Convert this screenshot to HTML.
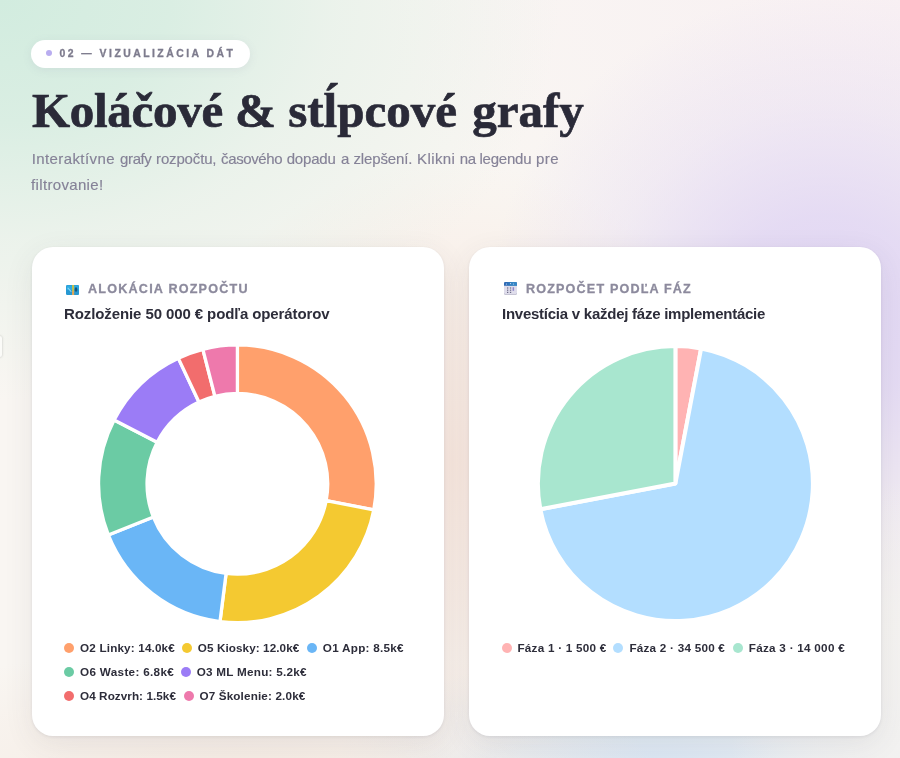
<!DOCTYPE html>
<html lang="sk">
<head>
<meta charset="utf-8">
<title>Koláčové &amp; stĺpcové grafy</title>
<style>
*{box-sizing:border-box;margin:0;padding:0}
html,body{width:900px;height:758px;overflow:hidden}
body{position:relative;font-family:"Liberation Sans",sans-serif;color:#2b2b3a;background:#faf6f1;}
.bg{position:absolute;left:0;top:0;width:900px;height:758px;
background:
radial-gradient(ellipse 170px 280px at 100% 100%, rgba(242,241,240,.95) 0%, rgba(242,241,240,.6) 50%, rgba(242,241,240,0) 100%),
radial-gradient(ellipse 560px 400px at 0% 0%, rgba(210,236,223,1) 0%, rgba(210,236,223,.8) 30%, rgba(210,236,223,.35) 60%, rgba(210,236,223,0) 100%),
radial-gradient(ellipse 340px 320px at 92% 41%, rgba(224,213,244,1) 0%, rgba(224,213,244,.8) 30%, rgba(224,213,244,.32) 65%, rgba(224,213,244,0) 100%),
radial-gradient(ellipse 300px 300px at 50% 61%, rgba(248,231,222,.95) 0%, rgba(248,231,222,.6) 45%, rgba(248,231,222,0) 100%),
radial-gradient(ellipse 420px 150px at 27% 104%, rgba(243,231,222,.85) 0%, rgba(243,231,222,0) 100%),
radial-gradient(ellipse 320px 130px at 72% 103%, rgba(212,227,243,1) 0%, rgba(212,227,243,0) 100%),
radial-gradient(ellipse 520px 320px at 100% 0%, rgba(248,240,243,1) 0%, rgba(248,240,243,0) 100%),
#f9f6f2;}
.tab{position:absolute;left:-2px;top:335.5px;width:4.3px;height:21px;background:#fbfbf8;border-radius:0 2px 2px 0;box-shadow:0 0 2.5px rgba(0,0,0,.22)}
.pill{position:absolute;left:31.2px;top:39.5px;width:219.3px;height:28.4px;border-radius:14px;background:#fff;box-shadow:0 2px 10px rgba(120,110,160,.10);}
.pill .dot{position:absolute;left:14.8px;top:10.6px;width:6px;height:6px;border-radius:50%;background:#b9adf0}
.pill .t{position:absolute;left:28.3px;top:.2px;line-height:28px;font-size:10.4px;font-weight:700;letter-spacing:2.48px;color:#7d7b8d;-webkit-text-stroke:0.3px #7d7b8d;white-space:nowrap}
h1{position:absolute;left:32px;top:81.3px;font-family:"Liberation Serif",serif;font-weight:700;font-size:49px;line-height:60px;color:#2a2a38;-webkit-text-stroke:0.7px #2a2a38;white-space:nowrap;transform-origin:0 0}
.sub{position:absolute;left:32px;top:146px;width:600px;letter-spacing:.03px;font-size:15px;line-height:25.5px;color:#858297;-webkit-text-stroke:.15px #858297;white-space:nowrap}
.sub span{position:absolute;top:0}
.card{position:absolute;top:246.5px;width:412.1px;height:489.6px;border-radius:21px;background:#fff;box-shadow:0 1px 3px rgba(60,50,80,.09),0 8px 30px rgba(70,62,80,.09)}
.c1{left:32px}.c2{left:469.1px}
.c2 .lab{left:56.9px}.c2 .tt{left:32.9px}.c2 .ic{margin-left:.9px}
.lab{position:absolute;left:56px;top:34.8px;font-size:12.6px;font-weight:700;letter-spacing:1.21px;color:#8c8a9d;-webkit-text-stroke:0.3px #8c8a9d;white-space:nowrap;line-height:16px}
.tt{position:absolute;left:32px;top:57.5px;letter-spacing:-0.1px;font-size:15px;font-weight:700;color:#2d2d3a;white-space:nowrap;line-height:20px}
.ic{position:absolute}
.ch{position:absolute;left:0;top:.5px}
.leg{position:absolute;font-size:11.7px;font-weight:700;color:#2d2d3a;white-space:nowrap;line-height:14px}
.leg i{position:absolute;width:10px;height:10px;border-radius:50%;top:2px;left:-16px}
</style>
</head>
<body>
<div class="bg"></div>
<div class="tab"></div>
<div class="pill"><span class="dot"></span><span class="t">02 — VIZUALIZÁCIA DÁT</span></div>
<h1><span style="letter-spacing:-0.3px">Koláčové</span> <span>&amp;</span> <span>stĺpcové</span> <span style="margin-left:3px">grafy</span></h1>
<div class="sub"><span class="w" style="left:-0.3px;top:0px;letter-spacing:0.400px">Interaktívne</span> <span class="w" style="left:88.1px;top:0px;letter-spacing:-0.400px">grafy</span> <span class="w" style="left:124.1px;top:0px;letter-spacing:-0.163px">rozpočtu,</span> <span class="w" style="left:189.1px;top:0px;letter-spacing:-0.400px">časového</span> <span class="w" style="left:254.7px;top:0px;letter-spacing:-0.193px">dopadu</span> <span class="w" style="left:309.1px;top:0px;letter-spacing:0.000px">a</span> <span class="w" style="left:321.4px;top:0px;letter-spacing:-0.118px">zlepšení.</span> <span class="w" style="left:385.1px;top:0px;letter-spacing:0.400px">Klikni</span> <span class="w" style="left:427.8px;top:0px;letter-spacing:-0.400px">na</span> <span class="w" style="left:447.4px;top:0px;letter-spacing:-0.215px">legendu</span> <span class="w" style="left:504.1px;top:0px;letter-spacing:0.400px">pre</span><br><span class="w" style="left:-0.9px;top:25.5px;letter-spacing:0.330px">filtrovanie!</span></div>

<div class="card c1">
<svg class="ic" style="left:34px;top:38.3px" width="13.2" height="10" viewBox="0 0 13.2 10"><rect x="0" y="0" width="13.2" height="10" rx="1.2" fill="#2798d2"/><rect x="0.6" y="0.6" width="12" height="4.4" rx=".8" fill="#31b1e7" opacity=".75"/><path d="M2 3.2L5 6.4" stroke="#7fd4f6" stroke-width="1.1" stroke-linecap="round"/><ellipse cx="10" cy="4.5" rx="1.4" ry="2.3" fill="#14587f"/><rect x="6.1" y="0" width="2" height="10" fill="#c6c048"/><rect x="6.1" y="6" width="2" height="4" fill="#dfa75c"/></svg>
  <div class="lab">ALOKÁCIA ROZPOČTU</div>
  <div class="tt">Rozloženie 50 000 € podľa operátorov</div>
  <svg class="ch" width="411" height="489" viewBox="0 0 411 489">
<path d="M205.40 97.95A138.85 138.85 0 0 1 341.79 262.82L294.15 253.73A90.35 90.35 0 0 0 205.40 146.45Z" fill="#FFA06C" stroke="#fff" stroke-width="3.3" stroke-linejoin="round"/>
<path d="M341.79 262.82A138.85 138.85 0 0 1 188.00 374.56L194.08 326.44A90.35 90.35 0 0 0 294.15 253.73Z" fill="#F4C931" stroke="#fff" stroke-width="3.3" stroke-linejoin="round"/>
<path d="M188.00 374.56A138.85 138.85 0 0 1 76.30 287.91L121.39 270.06A90.35 90.35 0 0 0 194.08 326.44Z" fill="#6AB6F6" stroke="#fff" stroke-width="3.3" stroke-linejoin="round"/>
<path d="M76.30 287.91A138.85 138.85 0 0 1 82.08 172.99L125.16 195.28A90.35 90.35 0 0 0 121.39 270.06Z" fill="#6BCBA4" stroke="#fff" stroke-width="3.3" stroke-linejoin="round"/>
<path d="M82.08 172.99A138.85 138.85 0 0 1 146.28 111.16L166.93 155.05A90.35 90.35 0 0 0 125.16 195.28Z" fill="#9B7CF6" stroke="#fff" stroke-width="3.3" stroke-linejoin="round"/>
<path d="M146.28 111.16A138.85 138.85 0 0 1 170.87 102.31L182.93 149.29A90.35 90.35 0 0 0 166.93 155.05Z" fill="#F26D6D" stroke="#fff" stroke-width="3.3" stroke-linejoin="round"/>
<path d="M170.87 102.31A138.85 138.85 0 0 1 205.40 97.95L205.40 146.45A90.35 90.35 0 0 0 182.93 149.29Z" fill="#EE79AC" stroke="#fff" stroke-width="3.3" stroke-linejoin="round"/>
  </svg>
<div class="leg" style="left:48.1px;top:394.5px;letter-spacing:0.162px"><i style="background:#FFA06C;left:-16.1px"></i>O2 Linky: 14.0k€</div>
<div class="leg" style="left:165.8px;top:394.5px;letter-spacing:0.090px"><i style="background:#F4C931;left:-15.8px"></i>O5 Kiosky: 12.0k€</div>
<div class="leg" style="left:290.8px;top:394.5px;letter-spacing:0.274px"><i style="background:#6AB6F6;left:-15.8px"></i>O1 App: 8.5k€</div>
<div class="leg" style="left:48.1px;top:418.5px;letter-spacing:0.313px"><i style="background:#6BCBA4;left:-16.1px"></i>O6 Waste: 6.8k€</div>
<div class="leg" style="left:164.7px;top:418.5px;letter-spacing:0.259px"><i style="background:#9B7CF6;left:-15.7px"></i>O3 ML Menu: 5.2k€</div>
<div class="leg" style="left:48.1px;top:442.5px;letter-spacing:0.064px"><i style="background:#F26D6D;left:-16.1px"></i>O4 Rozvrh: 1.5k€</div>
<div class="leg" style="left:167.4px;top:442.5px;letter-spacing:0.153px"><i style="background:#EE79AC;left:-15.4px"></i>O7 Školenie: 2.0k€</div>
</div>
<div class="card c2">
<svg class="ic" style="left:34px;top:35.5px" width="13" height="12.8" viewBox="0 0 13 12.8"><rect x="0" y="0" width="13" height="12.8" rx="1.4" fill="#a9a7bd"/><rect x="0" y="0" width="13" height="12.2" rx="1.4" fill="#dfddeb"/><path d="M0 3.8V1.4A1.4 1.4 0 0 1 1.4 0H11.6A1.4 1.4 0 0 1 13 1.4V3.8Z" fill="#2c69b4"/><path d="M6.5 0H11.6A1.4 1.4 0 0 1 13 1.4V3.8H6.5Z" fill="#3a93cc" opacity=".7"/><rect x="3.5" y="0" width="4" height="3.8" fill="#3380c2" opacity=".5"/><g fill="#6d6a86"><rect x="3" y="5.4" width="1.3" height="1.2"/><rect x="5.9" y="5.4" width="1.3" height="1.2"/><rect x="3" y="7.6" width="1.3" height="1.2"/><rect x="5.9" y="7.6" width="1.3" height="1.2"/><rect x="3" y="9.8" width="1.3" height="1.2"/><rect x="5.9" y="9.8" width="1.3" height="1.2"/></g><rect x="8.6" y="5.2" width="1.5" height="3.6" fill="#8f86c9"/><g fill="#cfe3f7"><circle cx="2.4" cy="2" r=".6"/><circle cx="6.5" cy="1.6" r=".6"/><circle cx="9.5" cy="2" r=".5"/></g></svg>
  <div class="lab" style="letter-spacing:1.16px">ROZPOČET PODĽA FÁZ</div>
  <div class="tt" style="letter-spacing:-.25px">Investícia v každej fáze implementácie</div>
  <svg class="ch" width="411" height="489" viewBox="0 0 411 489">
<path d="M206.4 236.5L206.40 99.00A137.5 137.5 0 0 1 232.16 101.44Z" fill="#FFB3B3" stroke="#fff" stroke-width="4" stroke-linejoin="round"/>
<path d="M206.4 236.5L232.16 101.44A137.5 137.5 0 1 1 71.34 262.26Z" fill="#B3DEFF" stroke="#fff" stroke-width="4" stroke-linejoin="round"/>
<path d="M206.4 236.5L71.34 262.26A137.5 137.5 0 0 1 206.40 99.00Z" fill="#A8E6CF" stroke="#fff" stroke-width="4" stroke-linejoin="round"/>
  </svg>
<div class="leg" style="left:48.3px;top:394.5px;letter-spacing:0.252px"><i style="background:#FFB3B3;left:-15.4px"></i>Fáza 1 · 1 500 €</div>
<div class="leg" style="left:160.3px;top:394.5px;letter-spacing:0.242px"><i style="background:#B3DEFF;left:-16.4px"></i>Fáza 2 · 34 500 €</div>
<div class="leg" style="left:279.7px;top:394.5px;letter-spacing:0.267px"><i style="background:#A8E6CF;left:-15.8px"></i>Fáza 3 · 14 000 €</div>
</div>
</body>
</html>
